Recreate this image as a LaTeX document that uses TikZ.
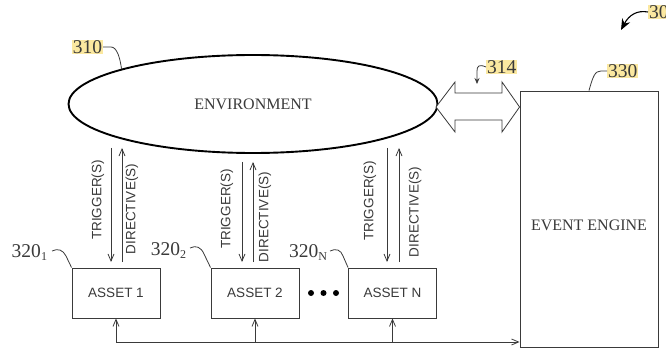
\documentclass[tikz,border=0pt]{standalone}
\usepackage{fontspec}
\setmainfont{Liberation Serif}
\setsansfont{Liberation Sans}
\usetikzlibrary{arrows.meta,shapes.geometric}

\definecolor{ink}{HTML}{3A3A3A}
\definecolor{mark}{HTML}{FBE8A0}

\tikzset{
  flow/.style={draw=ink, line width=0.8pt},
  tipv/.tip={Straight Barb[length=7pt,width=6pt,line width=0.8pt]},
  assetbox/.style={draw=ink, line width=0.9pt, minimum width=88pt, minimum height=50pt,
    inner sep=0pt, font=\sffamily\fontsize{13.5}{14}\selectfont, text=ink},
  sidetext/.style={rotate=90, font=\sffamily\fontsize{13.5}{14}\selectfont, text=ink, inner sep=0pt},
  refnum/.style={font=\fontsize{19.5}{20}\selectfont, text=ink, inner sep=0.8pt},
  hlnum/.style={refnum, fill=mark},
  leader/.style={draw=ink, line width=0.8pt},
}

\newcommand{\sub}[1]{\raisebox{-3pt}{\fontsize{12}{12}\selectfont #1}}

\begin{document}
\begin{tikzpicture}[x=1pt,y=-1pt]
\useasboundingbox[fill=white] (0,0) rectangle (666,358);

% main blocks
\node[ellipse, draw=black, line width=1.9pt, minimum width=369pt, minimum height=98pt,
      inner sep=0pt, font=\fontsize{16}{16}\selectfont, text=ink] (env) at (253,104) {ENVIRONMENT};
\node[draw=ink, line width=0.9pt, minimum width=138pt, minimum height=256pt, inner sep=0pt] (eng) at (589,219) {};
\node[font=\fontsize{16}{16}\selectfont, text=ink, inner sep=0pt] (engtxt) at (589,225) {EVENT ENGINE};

\node[assetbox] (a1) at (116,293) {ASSET 1};
\node[assetbox] (a2) at (255,293) {ASSET 2};
\node[assetbox] (aN) at (392.5,293) {ASSET N};

% ellipsis between asset 2 and asset N
\foreach \x/\n in {311/d1,323.5/d2,336/d3}
  \node[circle, fill=black, inner sep=0pt, minimum size=6pt] (\n) at (\x,293) {};

% trigger / directive links
\foreach \a/\xt/\xd/\top/\tty/\dty/\txx/\dxx in
   {a1/111/122/148/200/209/98/132,
    a2/242/253/162/209/217/227/265,
    aN/387/399/148/201/212/370/415}{
  \coordinate (\a-tt) at (\xt,\top);
  \coordinate (\a-tb) at (\xt,262);
  \coordinate (\a-dt) at (\xd,\top);
  \coordinate (\a-db) at (\xd,262);
  \draw[flow,-tipv] (\a-tt) -- (\a-tb);
  \draw[flow,-tipv] (\a-db) -- (\a-dt);
  \node[sidetext] (\a-trig) at (\txx,\tty) {TRIGGER(S)};
  \node[sidetext] (\a-dir) at (\dxx,\dty) {DIRECTIVE(S)};
}

% bus from the assets to the event engine
\coordinate (bus) at (0,342);
\draw[flow,-tipv] (a1.south |- bus) -- (eng.west |- bus);
\draw[flow,-tipv] (a1.south |- bus) -- (a1.south);
\draw[flow,-tipv] (a2.south |- bus) -- (a2.south);
\draw[flow,-tipv] (aN.south |- bus) -- (aN.south);

% two-way interface between environment and event engine
\coordinate (lt) at (436,107);
\coordinate (rt) at (eng.west |- lt);
\draw[draw=ink, line width=0.8pt, fill=white]
  (lt) -- (455,82) -- (455,93) -- (502,93) -- (502,82) -- (rt)
  -- (502,132) -- (502,120) -- (455,120) -- (455,132) -- cycle;

% reference numerals
\node[hlnum, anchor=east] (n310) at (103,47) {310};
\draw[leader] (n310.east) -- (111,47) .. controls (117,47) and (120,58) .. (env.165);

\node[hlnum, anchor=west] (n314) at (486,67) {314};
\coordinate (p314) at (477,84);
\draw[leader,-{Stealth[length=6pt,width=5pt]}] (n314.west) .. controls (479,64) and (477,66) .. (477,71) -- (p314);

\node[hlnum, anchor=west] (n330) at (607,71) {330};
\draw[leader] (n330.west) -- (601,71) .. controls (595,71) and (593,76) .. (eng.north);

\node[hlnum, anchor=west] (n300) at (648,12) {300};
\coordinate (p300) at (621,30);
\draw[line width=1.1pt, draw=black, -{Stealth[length=11pt,width=9pt]}] (n300.west) .. controls (637,10) and (629,15) .. (p300);

\node[refnum, anchor=base east] (n3201) at (48,257) {320\sub{1}};
\draw[leader] (52,251) .. controls (58,248) and (63,250) .. (66,256) -- (a1.north west);

\node[refnum, anchor=base east] (n3202) at (187,255) {320\sub{2}};
\draw[leader] (190,248) .. controls (196,245) and (201,247) .. (204,254) -- (a2.north west);

\node[refnum, anchor=base east] (n320N) at (328,257) {320\sub{N}};
\draw[leader] (330,251) .. controls (336,248) and (341,250) .. (343,256) -- (aN.north west);

\end{tikzpicture}
\end{document}
